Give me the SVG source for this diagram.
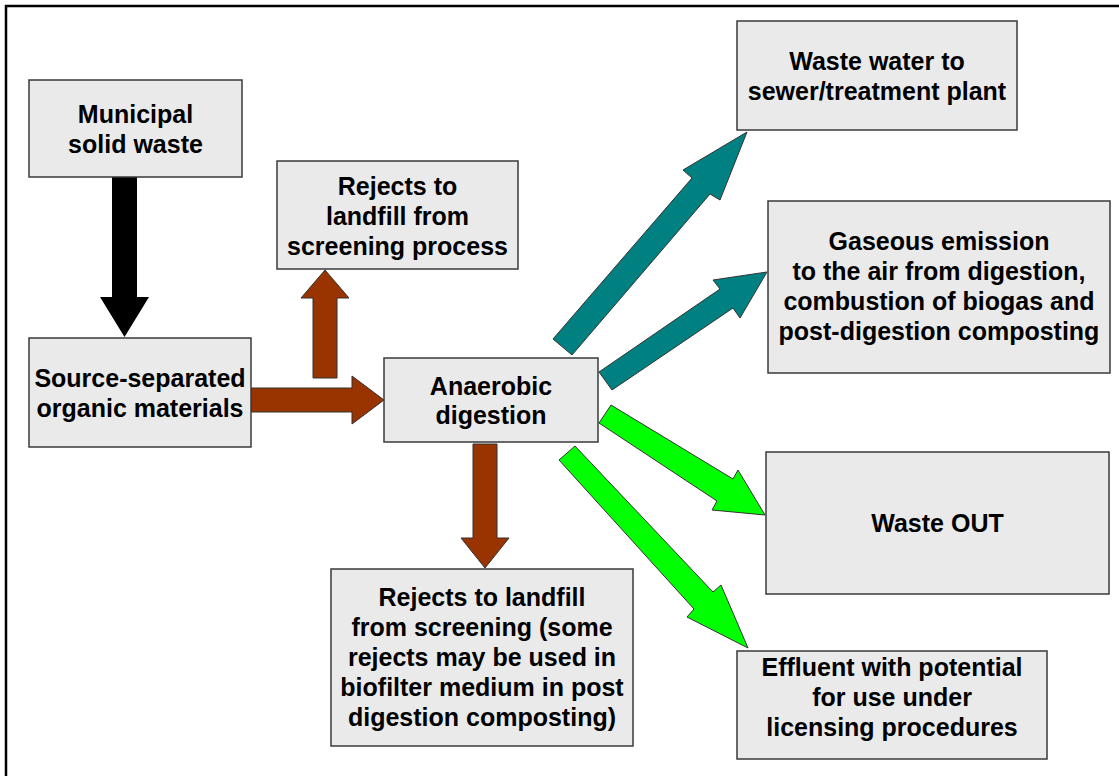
<svg xmlns="http://www.w3.org/2000/svg" width="1119" height="776" viewBox="0 0 1119 776">
  <style>
    .box { fill: #eaeaea; stroke: #3a3a3a; stroke-width: 1.5; }
    .lbl { font-family: "Liberation Sans", Arial, sans-serif; font-weight: bold; font-size: 25px; fill: #000; text-anchor: middle; }
    .brown { fill: #993300; stroke: #333; stroke-width: 1; }
    .teal { fill: #008080; stroke: #333; stroke-width: 1; }
    .green { fill: #00ff00; stroke: #333; stroke-width: 1; }
    .black { fill: #000; }
  </style>
  <rect x="0" y="0" width="1119" height="776" fill="#fff"/>
  <!-- outer frame -->
  <rect x="6" y="6" width="1200" height="800" fill="none" stroke="#000" stroke-width="2.5"/>

  <!-- block arrows -->
  <g id="connectors">
    <polygon class="black" points="112,177 137,177 137,297 149,297 124.5,337 100,297 112,297"/>
    <polygon class="brown" points="251,388 352,388 352,376 384,400 352,424 352,412 251,412"/>
    <polygon class="brown" points="313,378 313,298 301,298 325,270 349,298 337,298 337,378"/>
    <polygon class="brown" points="473,444 497,444 497,538 509,538 485,568 461,538 473,538"/>
    <polygon class="teal" points="553,339 692,178 683,170 747,132 720,200 710,194 572,355"/>
    <polygon class="teal" points="599,372 720,289 713,280 767,272 740,318 733,308 612,390"/>
    <polygon class="green" points="611,405 733,479 738,470 765,515 712,510 717,501 599,423"/>
    <polygon class="green" points="575,446 713,592 721,585 748,648 687,617 694,609 559,460"/>
  </g>

  <g id="municipal-waste">
    <rect class="box" x="29" y="80" width="213" height="97"/>
    <text class="lbl" x="135.5" y="123">Municipal</text>
    <text class="lbl" x="135.5" y="153">solid waste</text>
  </g>

  <g id="source-separated">
    <rect class="box" x="29" y="338" width="222" height="109"/>
    <text class="lbl" x="140" y="387">Source-separated</text>
    <text class="lbl" x="140" y="417">organic materials</text>
  </g>

  <g id="rejects-screening">
    <rect class="box" x="277" y="161" width="241" height="108"/>
    <text class="lbl" x="397.5" y="195">Rejects to</text>
    <text class="lbl" x="397.5" y="225">landfill from</text>
    <text class="lbl" x="397.5" y="255">screening process</text>
  </g>

  <g id="anaerobic-digestion">
    <rect class="box" x="384" y="358" width="214" height="84"/>
    <text class="lbl" x="491" y="395">Anaerobic</text>
    <text class="lbl" x="491" y="424">digestion</text>
  </g>

  <g id="rejects-post-digestion">
    <rect class="box" x="331" y="569" width="302" height="177"/>
    <text class="lbl" x="482" y="606">Rejects to landfill</text>
    <text class="lbl" x="482" y="636">from screening (some</text>
    <text class="lbl" x="482" y="666">rejects may be used in</text>
    <text class="lbl" x="482" y="696">biofilter medium in post</text>
    <text class="lbl" x="482" y="726">digestion composting)</text>
  </g>

  <g id="waste-water">
    <rect class="box" x="737" y="21" width="280" height="109"/>
    <text class="lbl" x="877" y="70">Waste water to</text>
    <text class="lbl" x="877" y="100">sewer/treatment plant</text>
  </g>

  <g id="gaseous-emission">
    <rect class="box" x="768" y="201" width="342" height="172"/>
    <text class="lbl" x="939" y="250">Gaseous emission</text>
    <text class="lbl" x="939" y="280">to the air from digestion,</text>
    <text class="lbl" x="939" y="310">combustion of biogas and</text>
    <text class="lbl" x="939" y="340">post-digestion composting</text>
  </g>

  <g id="waste-out">
    <rect class="box" x="766" y="452" width="343" height="142"/>
    <text class="lbl" x="937.5" y="532">Waste OUT</text>
  </g>

  <g id="effluent">
    <rect class="box" x="737" y="651" width="310" height="108"/>
    <text class="lbl" x="892" y="676">Effluent with potential</text>
    <text class="lbl" x="892" y="706">for use under</text>
    <text class="lbl" x="892" y="736">licensing procedures</text>
  </g>
</svg>
